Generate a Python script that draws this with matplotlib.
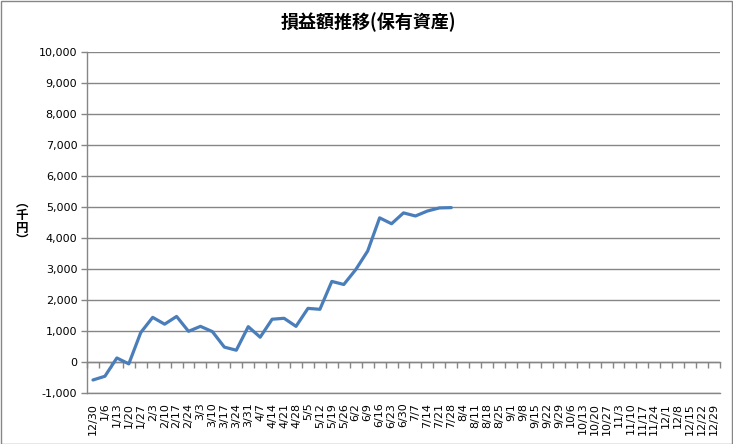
import numpy as np
from matplotlib import pyplot as plt
from matplotlib.patches import Rectangle

plt.rcParams["font.family"] = ["DejaVu Sans", "Noto Sans CJK JP"]

TITLE = "損益額推移(保有資産)"
Y_LABEL = "︵\n千\n円\n︶"

# weekly labels, one per category
weeks = [
    "12/30", "1/6", "1/13", "1/20", "1/27", "2/3", "2/10", "2/17", "2/24",
    "3/3", "3/10", "3/17", "3/24", "3/31", "4/7", "4/14", "4/21", "4/28",
    "5/5", "5/12", "5/19", "5/26", "6/2", "6/9", "6/16", "6/23", "6/30",
    "7/7", "7/14", "7/21", "7/28", "8/4", "8/11", "8/18", "8/25", "9/1",
    "9/8", "9/15", "9/22", "9/29", "10/6", "10/13", "10/20", "10/27",
    "11/3", "11/10", "11/17", "11/24", "12/1", "12/8", "12/15", "12/22",
    "12/29",
]

# profit/loss in thousand yen (only first weeks filled)
profit = [
    -580, -460, 130, -60, 950, 1440, 1220, 1470, 990, 1150, 980, 480, 380,
    1140, 800, 1380, 1410, 1150, 1730, 1700, 2600, 2500, 2980, 3580, 4650,
    4460, 4810, 4710, 4870, 4970, 4980,
]

y_ticks = list(range(-1000, 10001, 1000))

GRAY = "#868686"
BLUE = "#4a7ebb"

fig = plt.figure(figsize=(7.33, 4.44), dpi=100)
ax = fig.add_axes([87 / 733, 1 - 393 / 444, (720 - 87) / 733, (393 - 52) / 444])

x = np.arange(len(weeks))
ax.plot(x[: len(profit)], profit, color=BLUE, lw=2.3, solid_capstyle="round",
        solid_joinstyle="round", zorder=3)

ax.set_xlim(-0.5, len(weeks) - 0.5)
ax.set_ylim(y_ticks[0], y_ticks[-1])

ax.set_yticks(y_ticks)
ax.set_yticklabels([f"{v:,}" for v in y_ticks])
ax.yaxis.grid(True, color=GRAY, lw=1)
ax.set_axisbelow(True)
ax.tick_params(axis="y", length=4, width=1, color=GRAY, labelsize=8, pad=3)

ax.set_xticks(x)
ax.set_xticklabels(weeks, rotation=90, fontsize=8)
ax.tick_params(axis="x", length=0, pad=7)

for side in ("top", "right"):
    ax.spines[side].set_visible(False)
for side in ("left", "bottom"):
    ax.spines[side].set_color(GRAY)
    ax.spines[side].set_linewidth(1)

# category axis crossing at zero, ticks between categories
zero_pos = (0 - y_ticks[0]) / (y_ticks[-1] - y_ticks[0])
sec = ax.secondary_xaxis(zero_pos)
sec.set_xticks(np.arange(len(weeks) + 1) - 0.5)
sec.set_xticklabels([])
sec.tick_params(axis="x", length=4, width=1, color=GRAY, direction="out")
sec.spines["bottom"].set_color(GRAY)
sec.spines["bottom"].set_linewidth(1)

fig.text(368 / 733, 1 - 22 / 444, TITLE, ha="center", va="center",
         fontsize=13, fontweight="bold", family=["Noto Sans CJK JP"])
fig.text(22 / 733, 1 - 222 / 444, Y_LABEL, ha="center", va="center",
         fontsize=9, fontweight="bold", linespacing=0.95,
         family=["Noto Sans CJK JP", "DejaVu Sans"])

fig.patches.append(Rectangle((0.5 / 733, 0.5 / 444), 1 - 1.5 / 733, 1 - 1.5 / 444,
                             transform=fig.transFigure, fill=False,
                             edgecolor=GRAY, lw=1))

fig.savefig("out.png", dpi=100)
